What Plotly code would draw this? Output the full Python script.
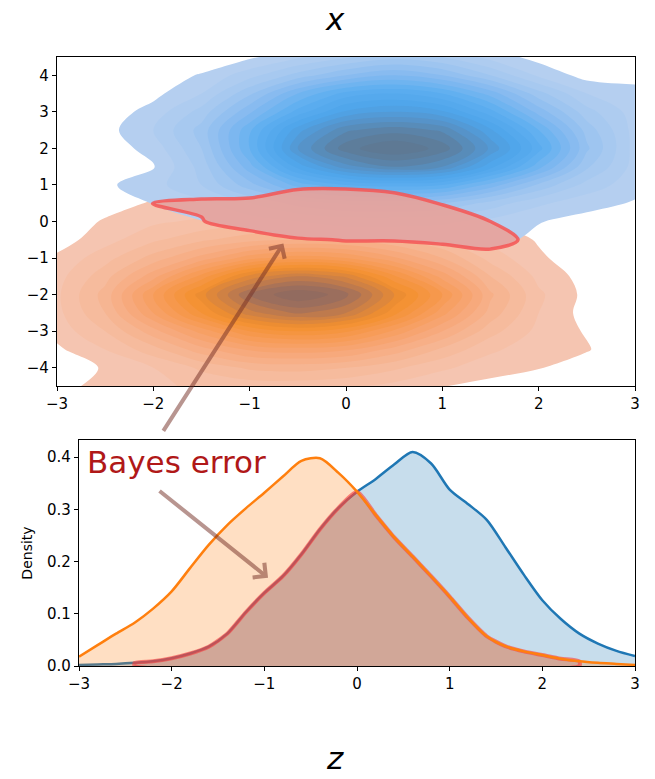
import numpy as np
import plotly.graph_objects as go

# ---------------- Top panel: 2D class densities (normalised) ----------------
grid_x = [-3.0, -2.5, -2.0, -1.5, -1.0, -0.5, 0.0, 0.5, 1.0, 1.5, 2.0, 2.5, 3.0]

blue_y = [-1.5, -1.0, -0.5, 0.0, 0.5, 1.0, 1.5, 2.0, 2.5, 3.0, 3.5, 4.0, 4.5]
blue_density = [
    [0, 0, 0, 0, 0.005, 0.008, 0.01, 0.01, 0.012, 0.012, 0.008, 0.003, 0],
    [0, 0, 0.003, 0.006, 0.01, 0.015, 0.02, 0.02, 0.025, 0.03, 0.015, 0.005, 0],
    [0, 0, 0.003, 0.01, 0.025, 0.045, 0.052, 0.052, 0.058, 0.07, 0.035, 0.01, 0],
    [0, 0, 0.02, 0.048, 0.075, 0.1, 0.12, 0.12, 0.11, 0.085, 0.053, 0.03, 0.015],
    [0, 0.02, 0.052, 0.085, 0.15, 0.22, 0.26, 0.27, 0.25, 0.18, 0.11, 0.07, 0.045],
    [0, 0.04, 0.08, 0.15, 0.28, 0.42, 0.5, 0.52, 0.5, 0.38, 0.24, 0.13, 0.07],
    [0, 0.01, 0.045, 0.17, 0.38, 0.62, 0.78, 0.85, 0.8, 0.62, 0.42, 0.21, 0.08],
    [0, 0.02, 0.07, 0.2, 0.45, 0.75, 0.93, 1.0, 0.93, 0.74, 0.52, 0.26, 0.08],
    [0, 0.03, 0.1, 0.22, 0.44, 0.68, 0.84, 0.88, 0.84, 0.66, 0.45, 0.23, 0.08],
    [0, 0.02, 0.07, 0.17, 0.34, 0.52, 0.66, 0.7, 0.66, 0.52, 0.33, 0.17, 0.075],
    [0, 0.01, 0.035, 0.1, 0.24, 0.4, 0.52, 0.55, 0.5, 0.38, 0.22, 0.1, 0.07],
    [0, 0, 0.02, 0.055, 0.13, 0.22, 0.3, 0.35, 0.3, 0.2, 0.09, 0.03, 0.03],
    [0, 0, 0, 0.01, 0.04, 0.09, 0.14, 0.18, 0.15, 0.08, 0.03, 0.01, 0],
]

orange_y = [-4.5, -4.0, -3.5, -3.0, -2.5, -2.0, -1.5, -1.0, -0.5, 0.0, 0.5, 1.0, 1.5]
orange_density = [
    [0.03, 0.07, 0.09, 0.11, 0.12, 0.12, 0.11, 0.085, 0.052, 0.035, 0.02, 0.01, 0],
    [0.02, 0.055, 0.1, 0.16, 0.21, 0.22, 0.2, 0.16, 0.11, 0.07, 0.053, 0.02, 0],
    [0.04, 0.1, 0.18, 0.28, 0.36, 0.38, 0.36, 0.28, 0.19, 0.11, 0.07, 0.055, 0],
    [0.07, 0.15, 0.28, 0.42, 0.55, 0.6, 0.56, 0.44, 0.3, 0.17, 0.085, 0.045, 0],
    [0.085, 0.2, 0.4, 0.6, 0.78, 0.86, 0.8, 0.62, 0.42, 0.23, 0.1, 0.03, 0],
    [0.09, 0.22, 0.45, 0.68, 0.9, 1.0, 0.92, 0.7, 0.5, 0.26, 0.11, 0.035, 0],
    [0.08, 0.18, 0.33, 0.52, 0.72, 0.8, 0.74, 0.56, 0.38, 0.2, 0.085, 0.03, 0],
    [0.06, 0.13, 0.22, 0.32, 0.43, 0.48, 0.45, 0.36, 0.25, 0.13, 0.058, 0.02, 0],
    [0.025, 0.08, 0.14, 0.19, 0.23, 0.25, 0.24, 0.2, 0.15, 0.085, 0.045, 0.01, 0],
    [0.02, 0.055, 0.09, 0.11, 0.13, 0.14, 0.14, 0.12, 0.09, 0.05, 0.025, 0.01, 0],
    [0, 0.03, 0.055, 0.056, 0.058, 0.08, 0.085, 0.07, 0.047, 0.03, 0.015, 0.005, 0],
    [0, 0.01, 0.02, 0.03, 0.03, 0.04, 0.04, 0.035, 0.02, 0.01, 0.005, 0, 0],
    [0, 0, 0.005, 0.01, 0.01, 0.01, 0.01, 0.01, 0.005, 0, 0, 0, 0],
]
threshold = 0.05
level_step = 0.05

# ---------------- Bottom panel: 1D densities of z ----------------
z_grid = [-3.0, -2.8, -2.6, -2.4, -2.2, -2.0, -1.8, -1.6, -1.4, -1.2, -1.0, -0.8, -0.6, -0.4, -0.2,
          0.0, 0.2, 0.4, 0.6, 0.8, 1.0, 1.2, 1.4, 1.6, 1.8, 2.0, 2.2, 2.4, 2.6, 2.8, 3.0]
blue_kde = [0.002, 0.003, 0.004, 0.006, 0.009, 0.015, 0.024, 0.037, 0.062, 0.103, 0.14, 0.172, 0.214,
            0.262, 0.303, 0.334, 0.358, 0.386, 0.41, 0.388, 0.338, 0.31, 0.28, 0.228, 0.175, 0.126,
            0.09, 0.062, 0.043, 0.029, 0.019]
orange_kde = [0.018, 0.04, 0.062, 0.083, 0.11, 0.143, 0.188, 0.232, 0.27, 0.302, 0.332, 0.363, 0.393,
              0.398, 0.37, 0.334, 0.29, 0.247, 0.21, 0.172, 0.133, 0.092, 0.057, 0.038, 0.028, 0.021,
              0.014, 0.009, 0.006, 0.004, 0.002]
overlap_range = [-2.4, 2.4]

x_ticks = [-3, -2, -1, 0, 1, 2, 3]
top_y_ticks = [-4, -3, -2, -1, 0, 1, 2, 3, 4]
density_ticks = [0.0, 0.1, 0.2, 0.3, 0.4]

# ---------------- colours (by density level) ----------------
blue_level_colors = [(0.05, "#b8d0f0"), (0.2, "#a3c7f0"), (0.35, "#82b9f0"), (0.5, "#5caef0"),
                     (0.65, "#4ea4ea"), (0.8, "#5790c2"), (0.9, "#5c7f9f"), (1.0, "#5e7790")]
orange_level_colors = [(0.05, "#f5c8b6"), (0.2, "#f6b898"), (0.35, "#f7a676"), (0.5, "#f79a52"),
                       (0.65, "#f3902e"), (0.8, "#c87e48"), (0.9, "#a0705c"), (1.0, "#8e6a60")]

n_levels = int(round((1.0 - threshold) / level_step)) + 1
TRANSPARENT = "rgba(255,255,255,0)"


def level_pos(level):
    return ((level - threshold) / level_step + 0.5) / n_levels


def build_scale(level_colors):
    scale = [[0.0, TRANSPARENT], [0.012, TRANSPARENT]]
    for lv, col in level_colors:
        scale.append([level_pos(lv), col])
    scale.append([1.0, level_colors[-1][1]])
    return scale


fig = go.Figure()

contour_levels = dict(start=threshold, end=1.0, size=level_step, coloring="fill", showlines=False)

fig.add_trace(go.Contour(
    x=grid_x, y=orange_y, z=orange_density, autocontour=False,
    contours=contour_levels, colorscale=build_scale(orange_level_colors), showscale=False,
    line=dict(width=0, smoothing=1.0), hoverinfo="skip", xaxis="x", yaxis="y"))
fig.add_trace(go.Contour(
    x=grid_x, y=blue_y, z=blue_density, autocontour=False,
    contours=contour_levels, colorscale=build_scale(blue_level_colors), showscale=False,
    line=dict(width=0, smoothing=1.0), hoverinfo="skip", xaxis="x", yaxis="y"))

# overlap of the two class regions (shared rows)
b = np.array(blue_density)
o = np.array(orange_density)
common_y = [yv for yv in blue_y if yv in orange_y]
bi = [blue_y.index(yv) for yv in common_y]
oi = [orange_y.index(yv) for yv in common_y]
overlap2d = np.minimum(b[bi], o[oi])
fig.add_trace(go.Contour(
    x=grid_x, y=common_y, z=overlap2d,
    contours=dict(type="constraint", operation="<", value=threshold),
    fillcolor="rgba(234,160,150,0.88)",
    line=dict(color="rgba(245,85,85,0.85)", width=3.5, smoothing=1.0),
    showscale=False, hoverinfo="skip", xaxis="x", yaxis="y"))

# bottom panel
zg = np.array(z_grid)
bk = np.array(blue_kde)
ok = np.array(orange_kde)
mask = (zg >= overlap_range[0]) & (zg <= overlap_range[1])
ov_x = zg[mask]
ov_y = np.minimum(bk, ok)[mask]

fig.add_trace(go.Scatter(
    x=z_grid, y=blue_kde, mode="lines", fill="tozeroy",
    fillcolor="rgba(31,119,180,0.25)",
    line=dict(color="#1f77b4", width=2.5, shape="spline", smoothing=0.8),
    hoverinfo="skip", xaxis="x2", yaxis="y2"))
fig.add_trace(go.Scatter(
    x=z_grid, y=orange_kde, mode="lines", fill="tozeroy",
    fillcolor="rgba(255,127,14,0.25)",
    line=dict(color="rgba(0,0,0,0)", width=0, shape="spline", smoothing=0.8),
    hoverinfo="skip", xaxis="x2", yaxis="y2"))
fig.add_trace(go.Scatter(
    x=list(ov_x) + [ov_x[-1], ov_x[0], ov_x[0]],
    y=list(ov_y) + [0, 0, ov_y[0]],
    mode="lines", fill="toself", fillcolor="rgba(200,90,80,0.28)",
    line=dict(color="rgba(250,60,60,0.6)", width=4, shape="spline", smoothing=0.6),
    hoverinfo="skip", xaxis="x2", yaxis="y2"))
fig.add_trace(go.Scatter(
    x=z_grid, y=orange_kde, mode="lines",
    line=dict(color="#ff7f0e", width=2.5, shape="spline", smoothing=0.8),
    hoverinfo="skip", xaxis="x2", yaxis="y2"))

axis_common = dict(showline=True, linecolor="black", linewidth=1.2, mirror=True,
                   ticks="outside", ticklen=4, tickwidth=1, tickcolor="black",
                   showgrid=False, zeroline=False, automargin=False,
                   tickfont=dict(family="DejaVu Sans", size=15, color="black"))

W, H = 655, 779
ml, mr, mt, mb = 0, 20, 57, 113
pw = W - ml - mr
ph = H - mt - mb


def px(xp):
    return (xp - ml) / pw


def py(yp):
    return (H - mb - yp) / ph


fig.update_layout(
    width=W, height=H,
    margin=dict(l=ml, r=mr, t=mt, b=mb),
    paper_bgcolor="white", plot_bgcolor="white",
    showlegend=False,
    xaxis=dict(domain=[px(57), 1], range=[-3, 3], tickvals=x_ticks, anchor="y", **axis_common),
    yaxis=dict(domain=[py(386), 1], range=[-4.5, 4.5], tickvals=top_y_ticks,
               anchor="x", **axis_common),
    xaxis2=dict(domain=[px(79), 1], range=[-3, 3], tickvals=x_ticks, anchor="y2",
                layer="below traces", **axis_common),
    yaxis2=dict(domain=[0, py(440)], range=[0, 0.433], tickvals=density_ticks,
                tickformat=".1f", anchor="x2",
                title=dict(text="Density", font=dict(family="DejaVu Sans", size=14, color="black"),
                           standoff=11),
                **axis_common),
)

arrow_color = "rgba(115,45,35,0.5)"
fig.add_annotation(x=-0.65, y=-0.60, xref="x", yref="y", ax=-121, ay=189,
                   text="", showarrow=True, arrowhead=4, arrowsize=0.9, arrowwidth=4,
                   arrowcolor=arrow_color, standoff=0)
fig.add_annotation(x=-0.96, y=0.169, xref="x2", yref="y2", ax=-110, ay=-88,
                   text="", showarrow=True, arrowhead=4, arrowsize=0.9, arrowwidth=4,
                   arrowcolor=arrow_color, standoff=0)
fig.add_annotation(x=-2.93, y=0.39, xref="x2", yref="y2", text="Bayes error",
                   showarrow=False, xanchor="left", yanchor="middle",
                   font=dict(family="DejaVu Sans", size=31, color="#b01818"))
fig.add_annotation(x=px(335), y=py(19), xref="paper", yref="paper",
                   text="<i>x</i>", showarrow=False, xanchor="center", yanchor="middle",
                   font=dict(family="DejaVu Sans", size=31, color="black"))
fig.add_annotation(x=px(335), y=py(758), xref="paper", yref="paper",
                   text="<i>z</i>", showarrow=False, xanchor="center", yanchor="middle",
                   font=dict(family="DejaVu Sans", size=31, color="black"))

# place the figure flush with the window corner (no default page margin)
fig.write_html("out.html", config={"displayModeBar": False},
               post_script="document.body.style.margin='0px';")
